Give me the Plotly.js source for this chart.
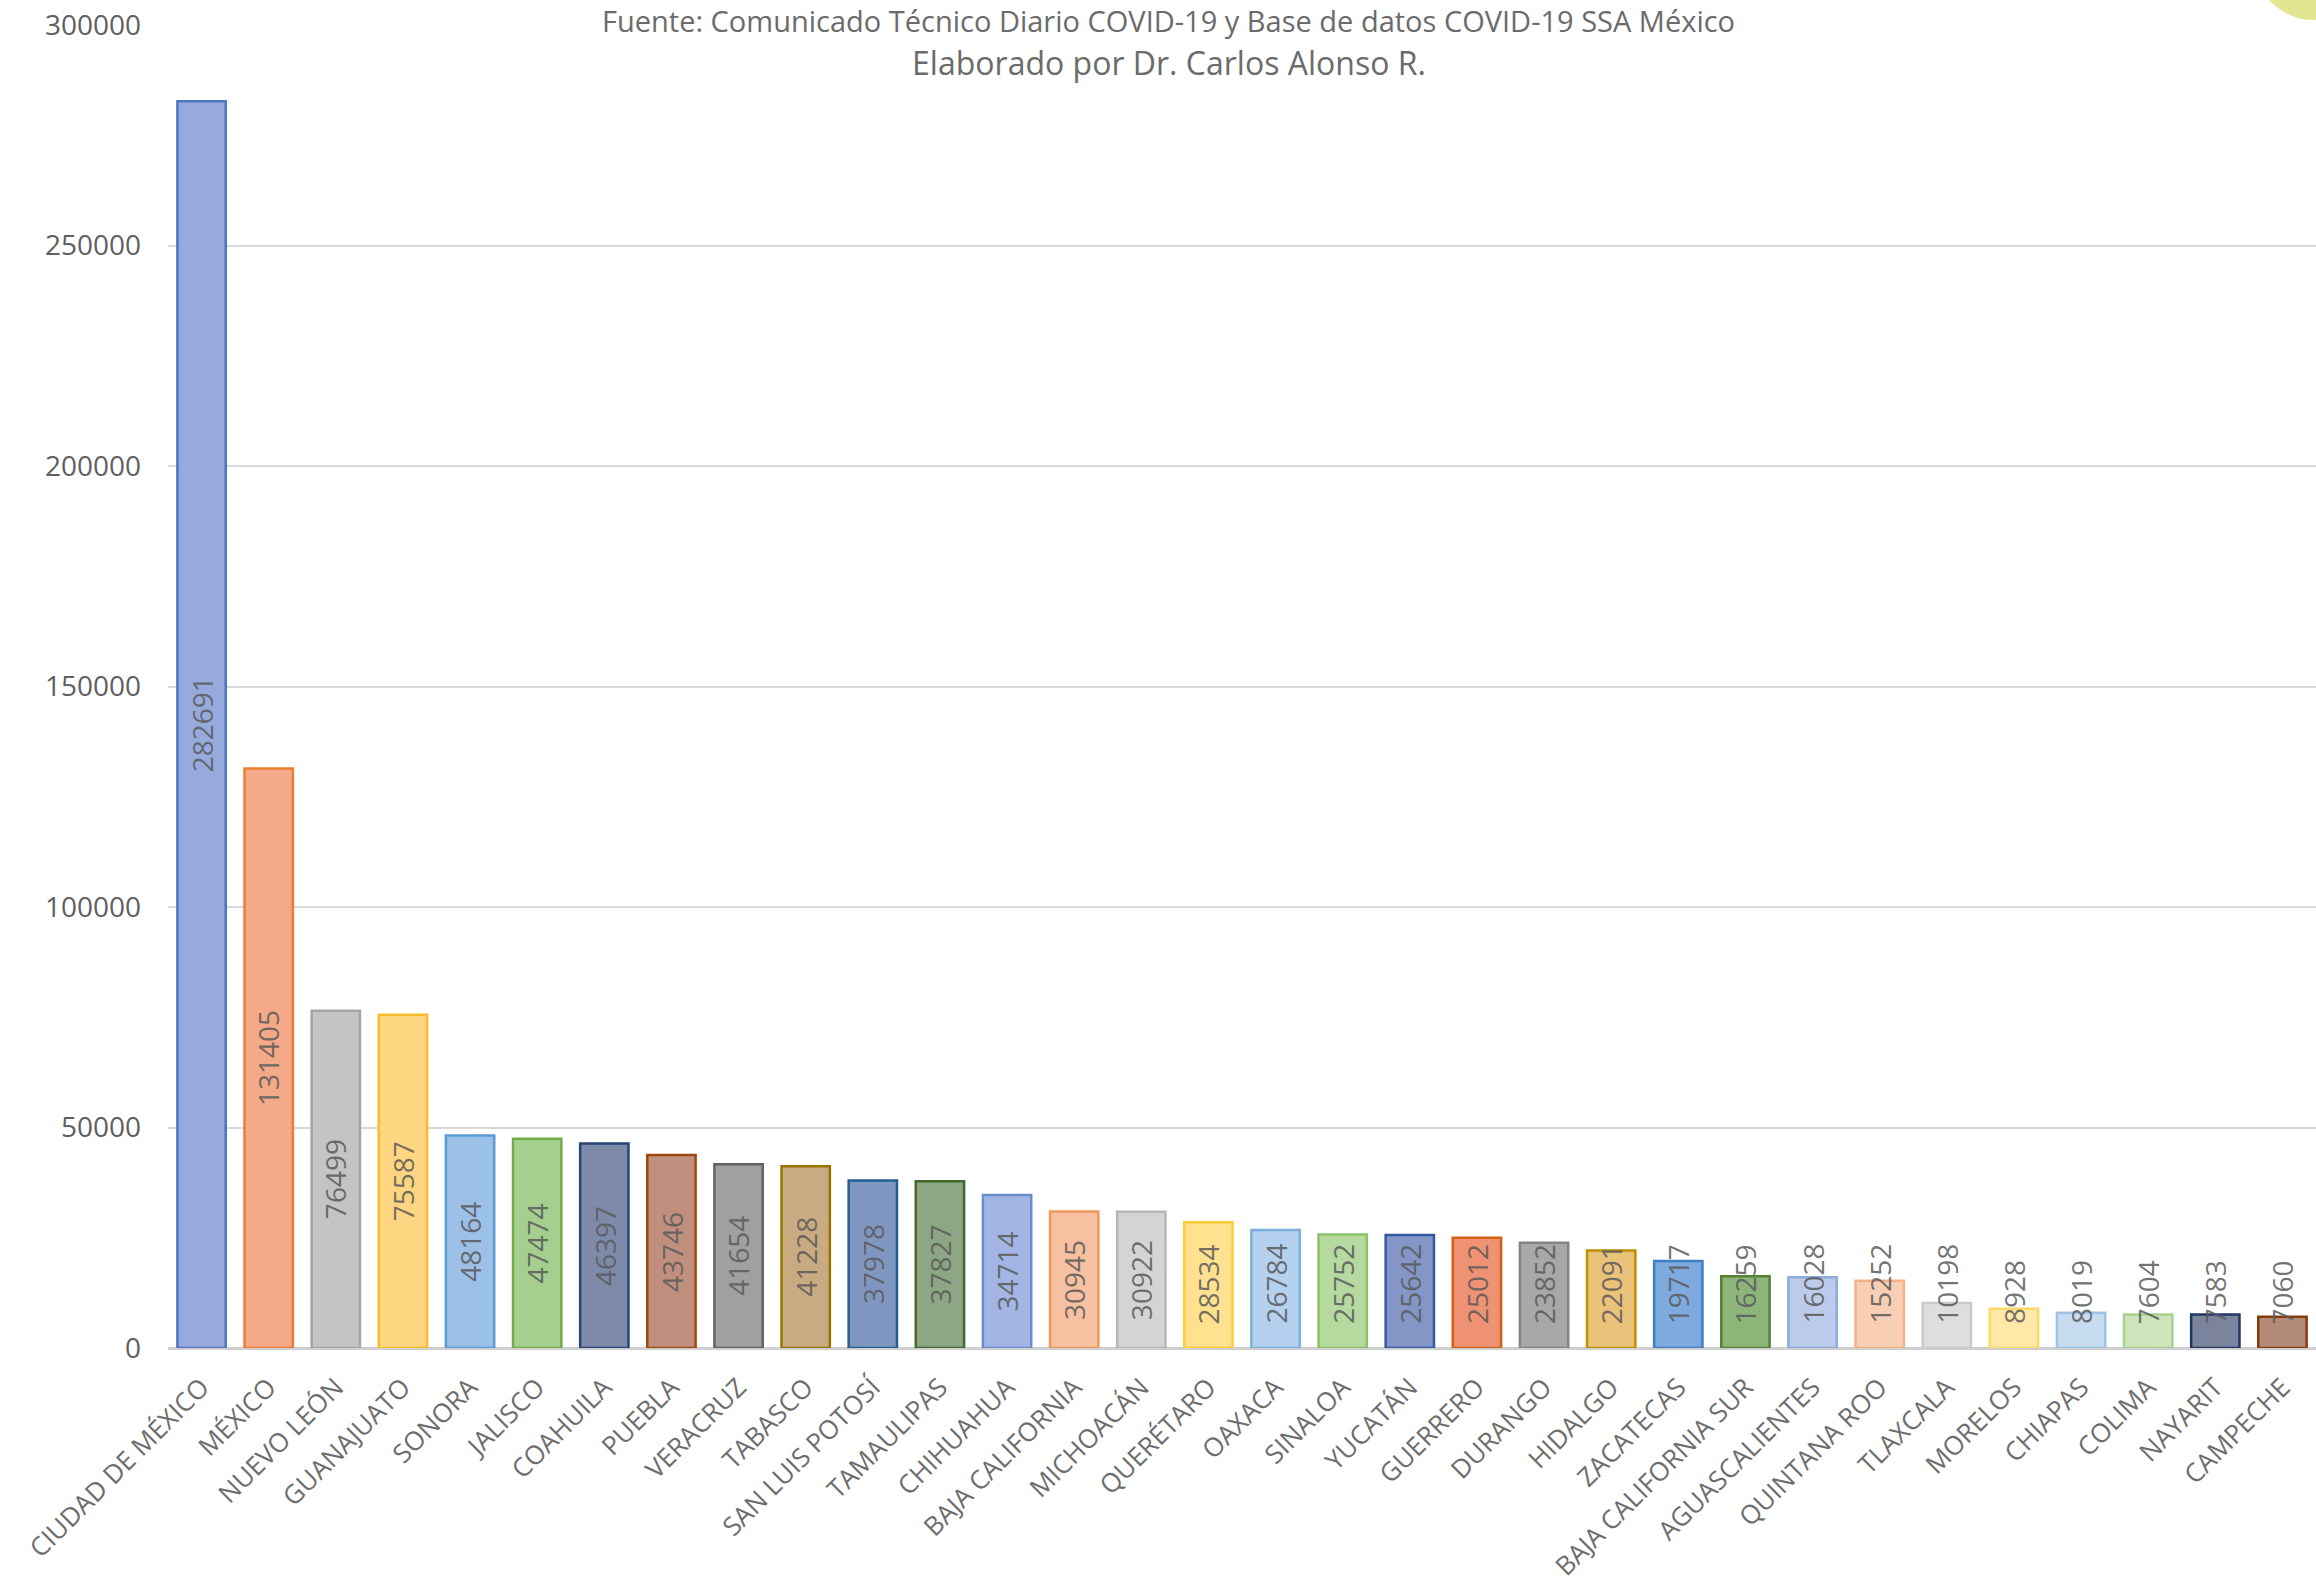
<!DOCTYPE html>
<html>
<head>
<meta charset="utf-8">
<script src="https://cdn.plot.ly/plotly-3.0.1.min.js"></script>
<style>html,body{margin:0;padding:0;background:#fff;}#chart{width:2316px;height:1591px;}</style>
</head>
<body>
<div id="chart"></div>
<script>
const states = ["CIUDAD DE MÉXICO","MÉXICO","NUEVO LEÓN","GUANAJUATO","SONORA","JALISCO","COAHUILA","PUEBLA","VERACRUZ","TABASCO","SAN LUIS POTOSÍ","TAMAULIPAS","CHIHUAHUA","BAJA CALIFORNIA","MICHOACÁN","QUERÉTARO","OAXACA","SINALOA","YUCATÁN","GUERRERO","DURANGO","HIDALGO","ZACATECAS","BAJA CALIFORNIA SUR","AGUASCALIENTES","QUINTANA ROO","TLAXCALA","MORELOS","CHIAPAS","COLIMA","NAYARIT","CAMPECHE"];
const cases = [282691,131405,76499,75587,48164,47474,46397,43746,41654,41228,37978,37827,34714,30945,30922,28534,26784,25752,25642,25012,23852,22091,19717,16259,16028,15252,10198,8928,8019,7604,7583,7060];
const fillColors = ["#97aadd","#f4a988","#c4c4c4","#fed681","#9dc0e8","#a5cf8e","#7e8aaa","#c18f7e","#a0a0a0","#c9ab82","#7f97c0","#8da683","#a3b5e4","#f7c0a1","#d4d4d4","#ffe18f","#b4d1ef","#b6d99f","#8396c6","#ef9274","#a8a8a8","#eac27a","#7eaadf","#8db57a","#bccbea","#f8cfb5","#dedede","#ffe8a8","#c8dcf0","#cde4bd","#7b849c","#b48a78"];
const lineColors = ["#4f74c2","#ed7d31","#a5a5a5","#f5be2a","#5b9bd5","#70ad47","#264478","#9e480e","#636363","#997300","#255e91","#43682b","#698ed0","#f1975a","#b7b7b7","#ffcd33","#7cafdd","#8cc168","#335aa1","#d26012","#848484","#bf9000","#3e7ec6","#548235","#8faadc","#f4b183","#c9c9c9","#ffd966","#9dc3e6","#a9d18e","#203864","#843c0c"];
const yTicks = [0,50000,100000,150000,200000,250000,300000];
const titleLine1 = "Fuente: Comunicado Técnico Diario COVID-19 y Base de datos COVID-19 SSA México";
const titleLine2 = "Elaborado por Dr. Carlos Alonso R.";

const W = 2316, H = 1591;
const M = {l:168, r:0, t:25, b:243};
const YMAX = 300000;
const plotH = H - M.t - M.b;
const ppu = plotH / YMAX;
const LABEL_FONT = 28;
const DIGIT_W = 0.572 * LABEL_FONT;
const MIN_GAP = 23;

const labelAnns = cases.map((v, i) => {
  const lenPx = String(v).length * DIGIT_W;
  const halfPx = v / 2 * ppu;
  const centered = halfPx >= MIN_GAP + lenPx / 2;
  return {
    x: states[i], y: centered ? v / 2 : 0, xref: 'x', yref: 'y',
    text: String(v), showarrow: false, textangle: -90,
    yanchor: centered ? 'middle' : 'bottom', xanchor: 'center',
    yshift: centered ? 0 : MIN_GAP, borderpad: 0,
    font: {family: 'Open Sans', size: LABEL_FONT, color: 'rgba(90,90,90,0.85)'}
  };
});

const trace = {
  type: 'bar', x: states, y: cases,
  marker: {color: fillColors, line: {color: lineColors, width: 2.5}},
  hoverinfo: 'x+y', textposition: 'none'
};

const layout = {
  width: W, height: H,
  margin: M,
  paper_bgcolor: '#ffffff', plot_bgcolor: '#ffffff',
  showlegend: false,
  bargap: 0.28,
  font: {family: 'Open Sans', color: '#666666'},
  xaxis: {
    type: 'category', tickangle: -45, automargin: false,
    tickfont: {family: 'Open Sans', size: 26, color: '#6d6d6d'},
    showgrid: false, showline: false, ticks: '', ticklabelstandoff: 18, fixedrange: true
  },
  yaxis: {
    range: [0, YMAX], tickvals: yTicks, ticktext: yTicks.map(String),
    tickfont: {family: 'Open Sans', size: 28, color: '#606060'},
    showgrid: true, gridcolor: '#d9d9d9', gridwidth: 2,
    zeroline: true, zerolinecolor: '#cfcfcf', zerolinewidth: 3,
    showline: false, ticks: '', ticklabelstandoff: 26, automargin: false
  },
  title: {
    text: titleLine2, x: 0.466, xanchor: 'center', xref: 'paper',
    y: 1 - 64 / H, yanchor: 'middle', yref: 'container',
    font: {family: 'Open Sans', size: 32, color: '#6b6b6b'}
  },
  annotations: [{
    text: titleLine1, xref: 'paper', yref: 'paper', x: 0.466, y: 1,
    xanchor: 'center', yanchor: 'top', yshift: 25, showarrow: false,
    borderpad: 0, bgcolor: '#ffffff',
    font: {family: 'Open Sans', size: 29, color: '#6b6b6b'}
  }].concat(labelAnns),
  shapes: [{
    type: 'circle', xref: 'paper', yref: 'paper',
    xsizemode: 'pixel', ysizemode: 'pixel', xanchor: 1, yanchor: 1,
    x0: -62, x1: 58, y0: 5, y1: 125,
    fillcolor: '#e3e690', line: {width: 0}, layer: 'below'
  }]
};

Plotly.newPlot('chart', [trace], layout, {displayModeBar: false, staticPlot: true});
</script>
</body>
</html>
